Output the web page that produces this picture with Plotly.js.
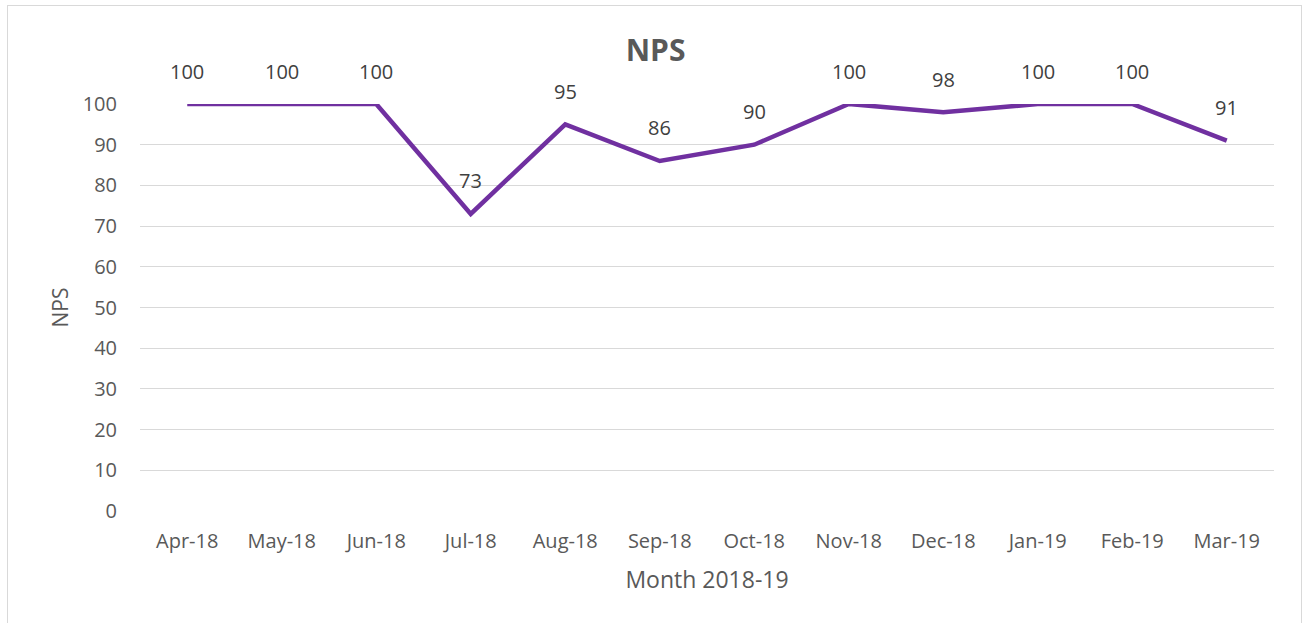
<!DOCTYPE html>
<html>
<head>
<meta charset="utf-8">
<script src="https://cdn.plot.ly/plotly-3.0.1.min.js"></script>
<style>
  html, body { margin: 0; padding: 0; background: #ffffff; }
  #chart { width: 1306px; height: 623px; }
  #frame { position: absolute; left: 7px; top: 5px; width: 1295px; height: 640px;
           border: 1px solid #D9D9D9; pointer-events: none; box-sizing: border-box; }
</style>
</head>
<body>
<div id="chart"></div>
<div id="frame"></div>
<script>
const months = ["Apr-18","May-18","Jun-18","Jul-18","Aug-18","Sep-18","Oct-18","Nov-18","Dec-18","Jan-19","Feb-19","Mar-19"];
const npsValues = [100,100,100,73,95,86,90,100,98,100,100,91];
const yTicks = [0,10,20,30,40,50,60,70,80,90,100];

const textColor = "#595959";
const font = "'Open Sans', 'Liberation Sans', sans-serif";

const trace = {
  x: months,
  y: npsValues,
  type: "scatter",
  mode: "lines",
  line: { color: "#7030A0", width: 4.5 },
  cliponaxis: false,
  hoverinfo: "x+y"
};

const annotations = months.map((m, i) => ({
  x: m, y: npsValues[i], xref: "x", yref: "y",
  text: String(npsValues[i]), showarrow: false,
  yshift: 33, font: { family: font, size: 20, color: "#404040" }
}));

const layout = {
  width: 1306, height: 623,
  margin: { l: 140, r: 32, t: 104, b: 112 },
  paper_bgcolor: "#ffffff",
  plot_bgcolor: "#ffffff",
  showlegend: false,
  title: {
    text: "<b>NPS</b>",
    font: { family: font, size: 30, color: textColor },
    xref: "container", x: 0.502, y: 1 - 50/623, yanchor: "middle"
  },
  xaxis: {
    type: "category",
    range: [-0.5, months.length - 0.5],
    showgrid: false, zeroline: false, showline: false,
    ticks: "", ticklabelstandoff: 16,
    tickfont: { family: font, size: 20, color: textColor },
    title: { text: "Month 2018-19", standoff: 18, font: { family: font, size: 23, color: textColor } }
  },
  yaxis: {
    range: [0, 100],
    tickvals: yTicks,
    ticktext: yTicks.map(String),
    showgrid: true, gridcolor: "#D9D9D9", gridwidth: 1,
    zeroline: false, showline: false,
    ticks: "", ticklabelstandoff: 22,
    tickfont: { family: font, size: 20, color: textColor },
    title: { text: "NPS", standoff: 8, font: { family: font, size: 21, color: textColor } }
  },
  annotations: annotations
};

Plotly.newPlot("chart", [trace], layout, { displayModeBar: false, staticPlot: true });
</script>
</body>
</html>
